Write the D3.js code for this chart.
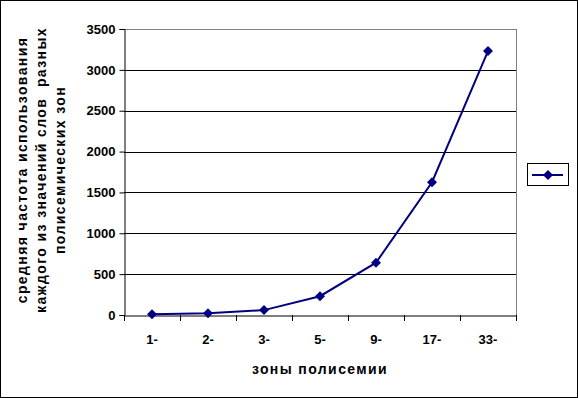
<!DOCTYPE html>
<html><head><meta charset="utf-8">
<script src="https://cdn.jsdelivr.net/npm/d3@7"></script>
<style>body{margin:0;background:#fff}svg{display:block}text{font-family:"Liberation Sans",Arial,sans-serif;font-weight:bold;font-size:13px;fill:#000}.ttl{font-size:14px;letter-spacing:1.4px;white-space:pre}</style>
</head><body>
<script>
const categories = ["1-","2-","3-","5-","9-","17-","33-"];
const values = [10, 20, 60, 230, 640, 1625, 3230];
const yTicks = [0,500,1000,1500,2000,2500,3000,3500];
const yTitle = ["средняя частота использования","каждого из значений слов  разных","полисемических зон"];
const xTitle = "зоны полисемии";

const W=578,H=398;
const L=124,R=516,T=29,B=315;
const svg=d3.select("body").append("svg").attr("width",W).attr("height",H);
svg.append("rect").attr("x",0.5).attr("y",0.5).attr("width",W-1).attr("height",H-1).attr("fill","#fff").attr("stroke","#000");

const x=d3.scaleBand().domain(categories).range([L,R]);
const y=d3.scaleLinear().domain([0,3500]).range([B,T]);

svg.append("line").attr("x1",L).attr("x2",R).attr("y1",T+0.5).attr("y2",T+0.5).attr("stroke","#808080");
svg.append("line").attr("x1",R+0.5).attr("x2",R+0.5).attr("y1",T).attr("y2",B).attr("stroke","#808080");
svg.append("g").selectAll("line").data(yTicks.filter(d=>d>0&&d<3500)).join("line")
  .attr("x1",L).attr("x2",R).attr("y1",d=>Math.round(y(d))+0.5).attr("y2",d=>Math.round(y(d))+0.5).attr("stroke","#000");

const ya=svg.append("g").attr("transform",`translate(${L+0.5},0)`).call(d3.axisLeft(y).tickValues(yTicks).tickSize(5).tickPadding(4).tickFormat(d3.format("d")));
ya.select(".domain").attr("stroke","#000");
ya.selectAll("text").style("font-size","13px").style("font-family","Liberation Sans, Arial").style("font-weight","bold");
const xa=svg.append("g").attr("transform",`translate(0,${B+0.5})`).call(d3.axisBottom(x).tickValues([]).tickSize(0));
xa.select(".domain").attr("stroke","#000");
const tickPos=categories.map(c=>x(c)).concat([R]);
svg.append("g").selectAll("line").data(tickPos).join("line")
  .attr("x1",d=>Math.round(d)+0.5).attr("x2",d=>Math.round(d)+0.5).attr("y1",B).attr("y2",B+6).attr("stroke","#000");
svg.append("g").selectAll("text").data(categories).join("text")
  .attr("x",d=>x(d)+x.bandwidth()/2).attr("y",344).attr("text-anchor","middle").text(d=>d);

const cx=d=>x(d)+x.bandwidth()/2;
svg.append("path").datum(categories.map((c,i)=>[cx(c),y(values[i])]))
  .attr("d",d3.line()).attr("fill","none").attr("stroke","#000080").attr("stroke-width",2);
svg.append("g").selectAll("path").data(categories).join("path")
  .attr("transform",(c,i)=>`translate(${cx(c)},${y(values[i])}) rotate(45)`)
  .attr("d",d3.symbol().type(d3.symbolSquare).size(50)).attr("fill","#000080");

svg.append("text").attr("class","ttl").attr("x",(L+R)/2).attr("y",374).attr("text-anchor","middle").text(xTitle);
const yt=svg.append("text").attr("class","ttl").attr("transform","translate(41,170) rotate(-90)").attr("text-anchor","middle");
yTitle.forEach((t,i)=>yt.append("tspan").attr("x",0).attr("y",(i-1)*19+5).text(t));

svg.append("rect").attr("x",527.5).attr("y",163.5).attr("width",41).attr("height",22).attr("fill","#fff").attr("stroke","#000");
svg.append("line").attr("x1",532).attr("x2",563).attr("y1",175).attr("y2",175).attr("stroke","#000080").attr("stroke-width",2);
svg.append("path").attr("transform","translate(548,175) rotate(45)").attr("d",d3.symbol().type(d3.symbolSquare).size(50)).attr("fill","#000080");
</script>
</body></html>
